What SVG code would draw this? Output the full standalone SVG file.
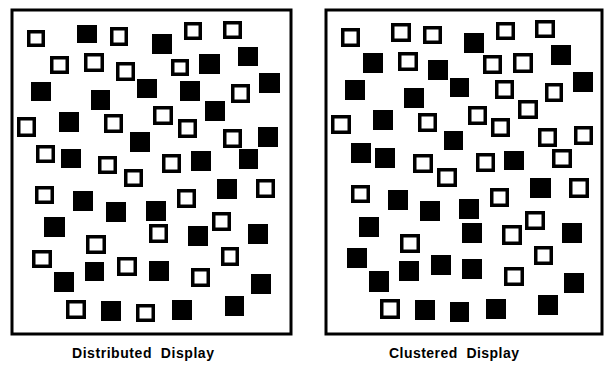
<svg xmlns="http://www.w3.org/2000/svg" width="605" height="366" viewBox="0 0 605 366">
<style>
.panel{fill:#fff;stroke:#000;stroke-width:3}
.f{fill:#000}
.o{fill:#fff;stroke:#000;stroke-width:3.5}
.lbl{font-family:"Liberation Sans",Arial,sans-serif;font-size:14px;font-weight:bold;fill:#000;white-space:pre}
</style>
<rect width="605" height="366" fill="#fff"/>
<g id="distributed">
<rect class="panel" x="12" y="10" width="279" height="324"/>
<rect class="o" x="28.75" y="31.75" width="14.5" height="13.5"/>
<rect class="f" x="77" y="25" width="20" height="18"/>
<rect class="o" x="111.75" y="28.75" width="14.5" height="15.5"/>
<rect class="f" x="152" y="34" width="20" height="20"/>
<rect class="o" x="185.75" y="23.75" width="14.5" height="14.5"/>
<rect class="o" x="224.75" y="22.75" width="15.5" height="14.5"/>
<rect class="o" x="51.75" y="57.75" width="15.5" height="14.5"/>
<rect class="o" x="85.75" y="54.75" width="16.5" height="15.5"/>
<rect class="o" x="117.75" y="63.75" width="15.5" height="15.5"/>
<rect class="o" x="172.75" y="60.75" width="14.5" height="13.5"/>
<rect class="f" x="199" y="54" width="21" height="20"/>
<rect class="f" x="238" y="47" width="20" height="19"/>
<rect class="f" x="31" y="82" width="20" height="19"/>
<rect class="f" x="91" y="90" width="19" height="20"/>
<rect class="f" x="137" y="79" width="20" height="19"/>
<rect class="f" x="180" y="81" width="20" height="20"/>
<rect class="o" x="232.75" y="85.75" width="15.5" height="15.5"/>
<rect class="f" x="259" y="73" width="21" height="20"/>
<rect class="o" x="18.75" y="118.75" width="15.5" height="16.5"/>
<rect class="f" x="59" y="112" width="20" height="20"/>
<rect class="o" x="105.75" y="115.75" width="15.5" height="15.5"/>
<rect class="o" x="154.75" y="107.75" width="16.5" height="15.5"/>
<rect class="f" x="205" y="101" width="20" height="20"/>
<rect class="f" x="130" y="132" width="20" height="20"/>
<rect class="o" x="179.75" y="120.75" width="15.5" height="15.5"/>
<rect class="o" x="224.75" y="130.75" width="15.5" height="15.5"/>
<rect class="f" x="258" y="127" width="20" height="20"/>
<rect class="o" x="37.75" y="146.75" width="15.5" height="14.5"/>
<rect class="f" x="61" y="149" width="20" height="19"/>
<rect class="o" x="99.75" y="157.75" width="15.5" height="14.5"/>
<rect class="o" x="163.75" y="155.75" width="15.5" height="15.5"/>
<rect class="f" x="191" y="151" width="20" height="20"/>
<rect class="f" x="239" y="149" width="19" height="20"/>
<rect class="o" x="125.75" y="170.75" width="15.5" height="14.5"/>
<rect class="o" x="36.75" y="187.75" width="15.5" height="14.5"/>
<rect class="f" x="73" y="191" width="20" height="20"/>
<rect class="f" x="106" y="202" width="20" height="20"/>
<rect class="f" x="146" y="201" width="20" height="20"/>
<rect class="o" x="257.75" y="180.75" width="15.5" height="15.5"/>
<rect class="f" x="217" y="179" width="20" height="20"/>
<rect class="o" x="178.75" y="190.75" width="15.5" height="15.5"/>
<rect class="o" x="213.75" y="213.75" width="15.5" height="15.5"/>
<rect class="f" x="44" y="217" width="21" height="20"/>
<rect class="o" x="150.75" y="225.75" width="15.5" height="15.5"/>
<rect class="f" x="188" y="226" width="20" height="20"/>
<rect class="f" x="248" y="224" width="20" height="20"/>
<rect class="o" x="87.75" y="236.75" width="16.5" height="15.5"/>
<rect class="o" x="222.75" y="248.75" width="14.5" height="15.5"/>
<rect class="o" x="33.75" y="251.75" width="16.5" height="14.5"/>
<rect class="f" x="85" y="262" width="19" height="19"/>
<rect class="o" x="118.75" y="258.75" width="16.5" height="15.5"/>
<rect class="f" x="149" y="261" width="20" height="20"/>
<rect class="o" x="192.75" y="269.75" width="15.5" height="15.5"/>
<rect class="f" x="251" y="274" width="20" height="20"/>
<rect class="f" x="54" y="272" width="20" height="20"/>
<rect class="o" x="67.75" y="301.75" width="16.5" height="15.5"/>
<rect class="f" x="101" y="301" width="20" height="20"/>
<rect class="o" x="137.75" y="305.75" width="15.5" height="14.5"/>
<rect class="f" x="172" y="300" width="20" height="20"/>
<rect class="f" x="225" y="296" width="19" height="20"/>
<text class="lbl" x="72" y="358" textLength="142">Distributed  Display</text>
</g>
<g id="clustered">
<rect class="panel" x="326" y="10" width="276" height="324"/>
<rect class="o" x="342.75" y="29.75" width="15.5" height="15.5"/>
<rect class="o" x="392.75" y="24.75" width="16.5" height="15.5"/>
<rect class="o" x="424.75" y="27.75" width="15.5" height="14.5"/>
<rect class="f" x="363" y="53" width="20" height="20"/>
<rect class="o" x="399.75" y="53.75" width="16.5" height="15.5"/>
<rect class="f" x="428" y="60" width="20" height="20"/>
<rect class="f" x="345" y="80" width="20" height="20"/>
<rect class="f" x="404" y="88" width="20" height="20"/>
<rect class="f" x="450" y="78" width="19" height="19"/>
<rect class="o" x="332.75" y="116.75" width="16.5" height="15.5"/>
<rect class="f" x="373" y="110" width="20" height="20"/>
<rect class="o" x="419.75" y="114.75" width="15.5" height="15.5"/>
<rect class="f" x="444" y="131" width="19" height="19"/>
<rect class="f" x="351" y="143" width="20" height="20"/>
<rect class="f" x="375" y="148" width="20" height="20"/>
<rect class="o" x="414.75" y="155.75" width="16.5" height="15.5"/>
<rect class="o" x="497.75" y="23.75" width="15.5" height="14.5"/>
<rect class="o" x="536.75" y="21.75" width="16.5" height="14.5"/>
<rect class="f" x="464" y="33" width="20" height="20"/>
<rect class="o" x="484.75" y="56.75" width="15.5" height="15.5"/>
<rect class="o" x="514.75" y="54.75" width="16.5" height="16.5"/>
<rect class="f" x="551" y="45" width="20" height="20"/>
<rect class="o" x="496.75" y="81.75" width="15.5" height="15.5"/>
<rect class="o" x="546.75" y="84.75" width="14.5" height="15.5"/>
<rect class="f" x="573" y="72" width="20" height="20"/>
<rect class="o" x="469.75" y="107.75" width="15.5" height="15.5"/>
<rect class="o" x="519.75" y="101.75" width="16.5" height="15.5"/>
<rect class="o" x="492.75" y="119.75" width="15.5" height="15.5"/>
<rect class="o" x="539.75" y="129.75" width="15.5" height="15.5"/>
<rect class="o" x="575.75" y="127.75" width="15.5" height="15.5"/>
<rect class="o" x="477.75" y="154.75" width="15.5" height="15.5"/>
<rect class="f" x="504" y="151" width="20" height="19"/>
<rect class="o" x="553.75" y="150.75" width="16.5" height="15.5"/>
<rect class="o" x="438.75" y="169.75" width="16.5" height="15.5"/>
<rect class="o" x="352.75" y="186.75" width="15.5" height="14.5"/>
<rect class="f" x="388" y="190" width="20" height="20"/>
<rect class="f" x="420" y="201" width="20" height="20"/>
<rect class="f" x="459" y="199" width="20" height="20"/>
<rect class="f" x="359" y="217" width="20" height="20"/>
<rect class="o" x="401.75" y="235.75" width="16.5" height="15.5"/>
<rect class="f" x="462" y="223" width="20" height="20"/>
<rect class="f" x="347" y="248" width="20" height="20"/>
<rect class="f" x="399" y="261" width="20" height="20"/>
<rect class="f" x="431" y="255" width="20" height="20"/>
<rect class="f" x="369" y="271" width="20" height="21"/>
<rect class="o" x="381.75" y="300.75" width="16.5" height="16.5"/>
<rect class="f" x="415" y="300" width="20" height="20"/>
<rect class="f" x="450" y="302" width="19" height="20"/>
<rect class="f" x="530" y="178" width="21" height="20"/>
<rect class="o" x="570.75" y="179.75" width="16.5" height="16.5"/>
<rect class="o" x="491.75" y="189.75" width="15.5" height="15.5"/>
<rect class="o" x="526.75" y="212.75" width="16.5" height="15.5"/>
<rect class="o" x="503.75" y="226.75" width="16.5" height="16.5"/>
<rect class="f" x="562" y="223" width="20" height="20"/>
<rect class="o" x="535.75" y="247.75" width="15.5" height="15.5"/>
<rect class="f" x="462" y="259" width="20" height="20"/>
<rect class="o" x="505.75" y="268.75" width="16.5" height="15.5"/>
<rect class="f" x="564" y="273" width="20" height="20"/>
<rect class="f" x="486" y="299" width="20" height="20"/>
<rect class="f" x="538" y="295" width="20" height="20"/>
<text class="lbl" x="389" y="358" textLength="130">Clustered  Display</text>
</g>
</svg>
